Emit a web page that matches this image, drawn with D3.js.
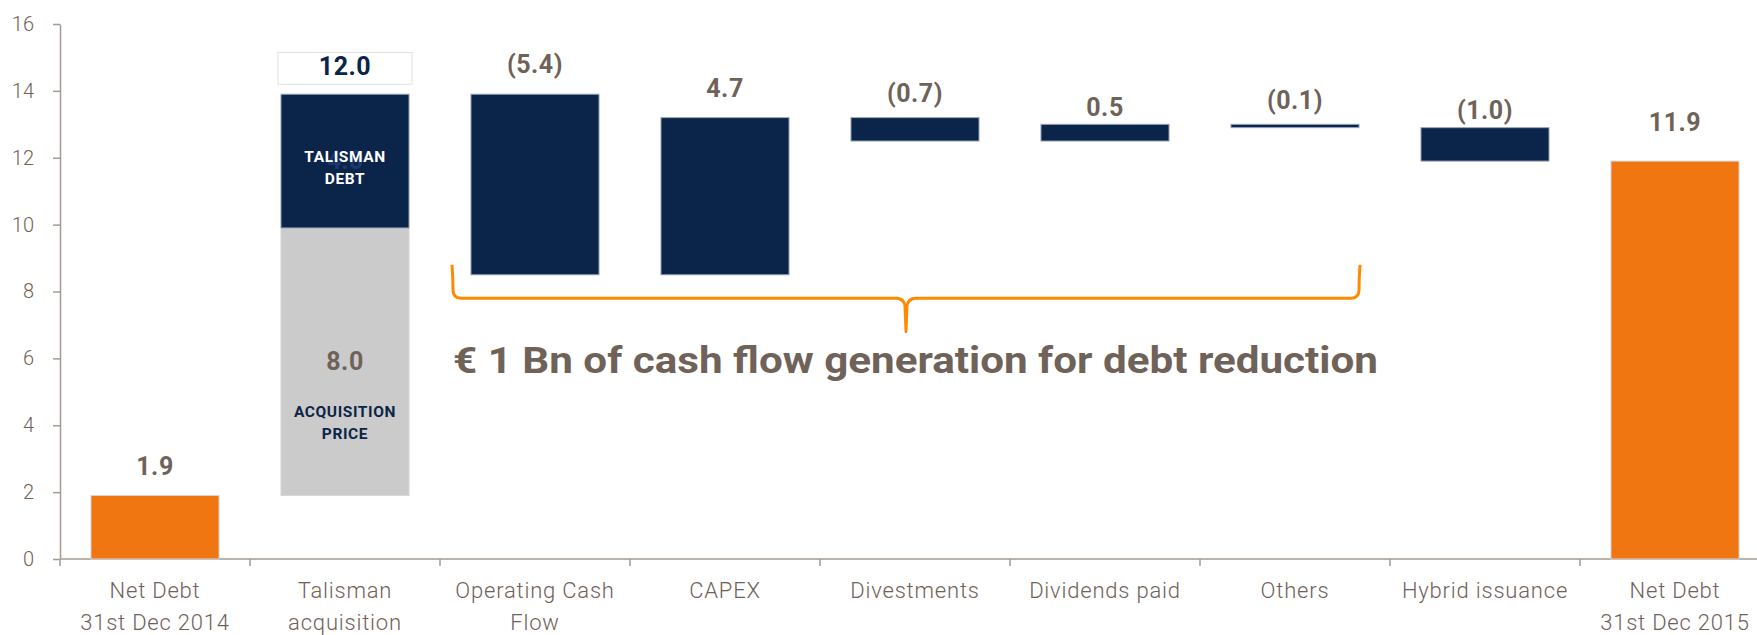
<!DOCTYPE html>
<meta charset="utf-8">
<script src="https://d3js.org/d3.v7.min.js"></script>
<style>
  body { margin: 0; background: #fff; }
  text { font-family: Roboto, "Noto Sans", sans-serif; }
</style>
<svg id="chart" width="1757" height="635"></svg>
<script>
// categories (two-line labels)
const categories = [
  ["Net Debt", "31st Dec 2014"],
  ["Talisman", "acquisition"],
  ["Operating Cash", "Flow"],
  ["CAPEX"],
  ["Divestments"],
  ["Dividends paid"],
  ["Others"],
  ["Hybrid issuance"],
  ["Net Debt", "31st Dec 2015"]
];

// values, € Bn
const openingDebt = 1.9;
const acquisitionPrice = 8.0;
const talismanDebt = 4.0;
const movements = [-5.4, 4.7, -0.7, 0.5, -0.1, -1.0];   // Operating CF .. Hybrid
const closingDebt = 11.9;
const yTicks = [0, 2, 4, 6, 8, 10, 12, 14, 16];
const note = "€ 1 Bn of cash flow generation for debt reduction";

const svg = d3.select("#chart");
const txt = "#6f6259", navy = "#0b2449", orange = "#f07612", grey = "#cbcbcb", axisCol = "#a39b94";

const keys = categories.map(d => d.join(" "));
const x = d3.scaleBand().domain(keys).range([60, 1770]).paddingInner(0.326).paddingOuter(0.163);
const y = d3.scaleLinear().domain([0, 16]).range([559, 24]);
const bw = x.bandwidth(), step = x.step();

// build waterfall segments
const bars = [];
bars.push({k: keys[0], y0: 0, y1: openingDebt, fill: orange, label: openingDebt.toFixed(1)});
bars.push({k: keys[1], y0: openingDebt, y1: openingDebt + acquisitionPrice, fill: grey});
bars.push({k: keys[1], y0: openingDebt + acquisitionPrice, y1: openingDebt + acquisitionPrice + talismanDebt, fill: navy});
let run = openingDebt + acquisitionPrice + talismanDebt;
movements.forEach((m, i) => {
  const next = run + m;
  bars.push({k: keys[i + 2], y0: Math.min(run, next), y1: Math.max(run, next), fill: navy,
             label: m < 0 ? "(" + Math.abs(m).toFixed(1) + ")" : m.toFixed(1)});
  run = next;
});
bars.push({k: keys[8], y0: 0, y1: closingDebt, fill: orange, label: closingDebt.toFixed(1)});

// axes
const yAxis = svg.append("g").attr("transform", "translate(60,0)")
  .call(d3.axisLeft(y).tickValues(yTicks).tickSize(7).tickSizeOuter(0).tickPadding(19));
yAxis.selectAll("path, line").attr("stroke", axisCol).attr("stroke-width", 1.5);
yAxis.selectAll("text").attr("fill", txt).attr("font-size", 20).attr("font-weight", 300);

svg.append("line").attr("x1", 60).attr("x2", 1770).attr("y1", y(0)).attr("y2", y(0))
  .attr("stroke", axisCol).attr("stroke-width", 1.5);

// tick marks between categories
const edges = keys.map(k => x(k) - (step - bw) / 2).concat([x(keys[8]) + bw + (step - bw) / 2]);
svg.append("g").selectAll("line").data(edges).join("line")
  .attr("x1", d => d).attr("x2", d => d).attr("y1", y(0)).attr("y2", y(0) + 7)
  .attr("stroke", axisCol).attr("stroke-width", 1.5);

// category labels
const cl = svg.append("g").selectAll("text").data(categories).join("text")
  .attr("text-anchor", "middle").attr("fill", txt).attr("font-size", 22).attr("font-weight", 300)
  .attr("letter-spacing", 0.8)
  .attr("transform", (d, i) => `translate(${x(keys[i]) + bw / 2},598)`);
cl.selectAll("tspan").data(d => d).join("tspan")
  .attr("x", 0).attr("dy", (d, i) => i ? 32 : 0).text(d => d);

// bars
svg.append("g").selectAll("rect").data(bars).join("rect")
  .attr("x", d => x(d.k)).attr("width", bw)
  .attr("y", d => y(d.y1)).attr("height", d => Math.max(2, y(d.y0) - y(d.y1)))
  .attr("fill", d => d.fill)
  .attr("stroke", d => d.fill === navy ? "#9aa6bb" : "#d6d6d6").attr("stroke-width", 1);

// value labels above bars
const labelGap = {0: 20, 2: 21, 3: 21, 4: 16, 5: 8, 6: 15, 7: 9, 8: 30};
const lab = bars.filter(d => d.label);
svg.append("g").selectAll("text").data(lab).join("text")
  .attr("x", d => x(d.k) + bw / 2)
  .attr("y", d => y(d.y1) - labelGap[keys.indexOf(d.k)])
  .attr("text-anchor", "middle").attr("fill", txt)
  .attr("font-size", 25).attr("font-weight", 700).attr("letter-spacing", 0.5)
  .text(d => d.label);

// Talisman stacked bar annotations
const tc = x(keys[1]) + bw / 2;
const stackTop = openingDebt + acquisitionPrice + talismanDebt;
svg.append("rect").attr("x", x(keys[1]) - 3).attr("width", bw + 6)
  .attr("y", y(15.15)).attr("height", y(14.2) - y(15.15))
  .attr("fill", "#fff").attr("stroke", "#e0e0e0").attr("stroke-width", 1);
svg.append("text").attr("x", tc).attr("y", y(14.2) - 9).attr("text-anchor", "middle")
  .attr("fill", navy).attr("font-size", 25).attr("font-weight", 700).attr("letter-spacing", 0.5)
  .text((acquisitionPrice + talismanDebt).toFixed(1));
svg.append("text").attr("x", tc).attr("y", y(stackTop - talismanDebt / 2) + 8).attr("text-anchor", "middle")
  .attr("fill", "#1a386e").attr("font-size", 25).attr("font-weight", 700)
  .text(talismanDebt.toFixed(1));
svg.append("text").attr("x", tc).attr("y", y(openingDebt + acquisitionPrice / 2) + 8).attr("text-anchor", "middle")
  .attr("fill", txt).attr("font-size", 25).attr("font-weight", 700).attr("letter-spacing", 0.5)
  .text(acquisitionPrice.toFixed(1));

function twoLines(lines, cy, fill) {
  const t = svg.append("text").attr("text-anchor", "middle").attr("fill", fill)
    .attr("font-size", 15.5).attr("font-weight", 700).attr("letter-spacing", 0.6);
  lines.forEach((l, i) => t.append("tspan").attr("x", tc).attr("y", cy + i * 22).text(l));
}
twoLines(["TALISMAN", "DEBT"], 162, "#ffffff");
twoLines(["ACQUISITION", "PRICE"], 417, navy);

// brace under the cash-flow items (Operating Cash Flow .. Others)
const bx0 = x(keys[2]) - 19, bx1 = x(keys[6]) + bw + 1, bm = (bx0 + bx1) / 2;
const yT = y(8.8), yH = y(7.8), yP = y(6.8);
const brace = `M${bx0},${yT} Q${bx0 + 1},${yT + 12} ${bx0 + 1},${yH - 9} Q${bx0 + 1},${yH} ${bx0 + 9},${yH}
  L${bm - 10},${yH} Q${bm - 2},${yH} ${bm - 1},${yH + 8} L${bm},${yP}
  L${bm + 1},${yH + 8} Q${bm + 2},${yH} ${bm + 10},${yH}
  L${bx1 - 9},${yH} Q${bx1 - 1},${yH} ${bx1 - 1},${yH - 9} Q${bx1 - 1},${yT + 12} ${bx1},${yT}`;
svg.append("path").attr("d", brace).attr("fill", "none")
  .attr("stroke", "#ff8a00").attr("stroke-width", 3).attr("stroke-linejoin", "round");

svg.append("text").attr("x", bx0 + 1).attr("y", 373)
  .attr("fill", txt).attr("font-size", 36).attr("font-weight", 700)
  .attr("textLength", 925).attr("lengthAdjust", "spacingAndGlyphs")
  .text(note);
</script>
